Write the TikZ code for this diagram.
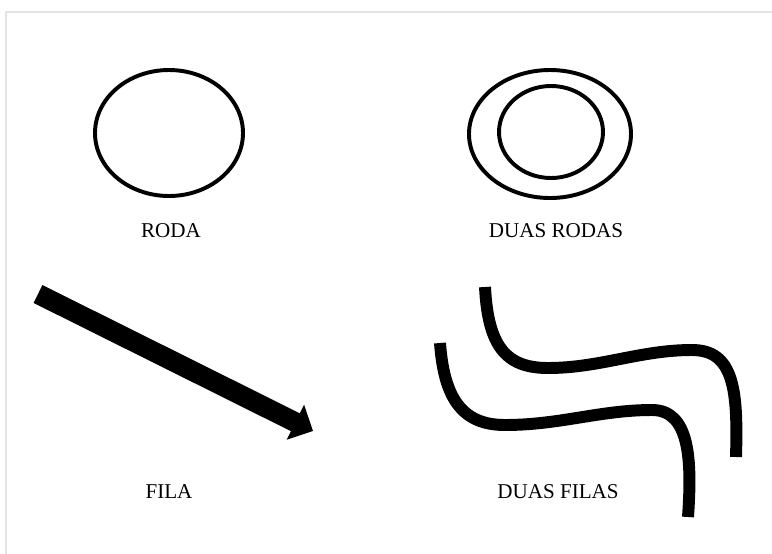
\documentclass[tikz,border=0pt]{standalone}
\usepackage{fontspec}
\setmainfont{Liberation Serif}
\usepackage{tikz}
\usetikzlibrary{arrows.meta}
\definecolor{moldura}{HTML}{E4E4E4}
\tikzset{
  rotulo/.style={font=\fontsize{15}{18}\selectfont},
  aro/.style={line width=2.8pt},
  trilha/.style={line width=8.5pt},
}
\newcommand{\moldura}{%
  \draw[moldura,line width=1.2pt] (6,554) -- (6,12) -- (772,12);
}
\begin{document}
\begin{tikzpicture}[x=0.025cm,y=-0.025cm]
\useasboundingbox (0,0) rectangle (772,554);
\moldura
% rodas
\draw[aro] (169,133) ellipse [x radius=74, y radius=63];
\draw[aro] (550,134) ellipse [x radius=81, y radius=64];
\draw[aro] (551,132) ellipse [x radius=52, y radius=46];
\node[rotulo] (roda) at (171,231) {RODA};
\node[rotulo] (duasrodas) at (556,231) {DUAS RODAS};
% fila
\coordinate (fila0) at (38,294);
\coordinate (fila1) at (313,431);
\draw[line width=14.2pt,-{Triangle[length=14pt,width=27pt]}] (fila0) -- (fila1);
\node[rotulo] (fila) at (169,492) {FILA};
% duas filas
\draw[trilha] (485,287) .. controls (488,345) and (505,368) .. (548,368)
  .. controls (600,368) and (640,350) .. (692,350)
  .. controls (734,350) and (738,390) .. (736,457);
\draw[trilha] (440,343) .. controls (444,398) and (462,425) .. (505,425)
  .. controls (560,425) and (600,410) .. (652,410)
  .. controls (690,410) and (692,460) .. (688,517);
\node[rotulo] (duasfilas) at (558,492) {DUAS FILAS};
\end{tikzpicture}
\end{document}
